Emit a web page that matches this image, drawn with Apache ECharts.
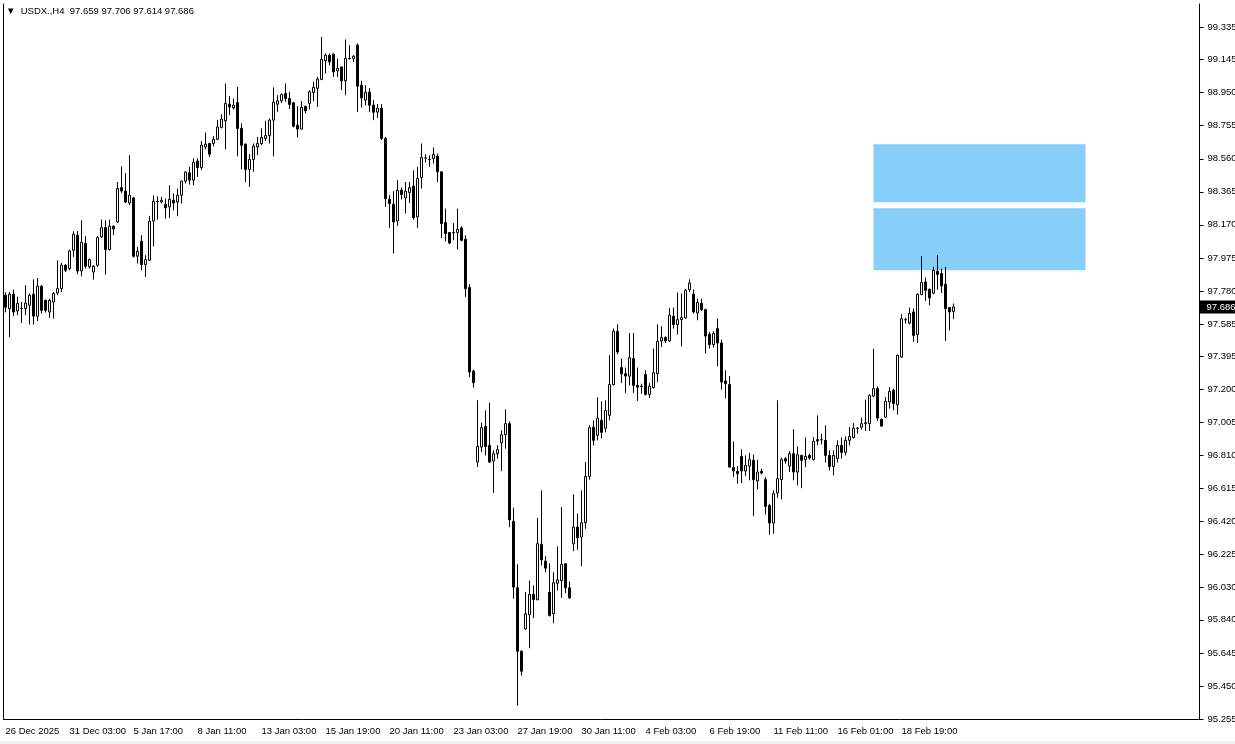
<!DOCTYPE html>
<html>
<head>
<meta charset="utf-8">
<title>USDX H4</title>
<script src="https://cdn.jsdelivr.net/npm/echarts@6/dist/echarts.min.js"></script>
<style>
  html, body { margin: 0; padding: 0; background: #f0f0f0; height: 744px; overflow: hidden; }
  #chart { width: 1235px; height: 741px; background: #fff; }
</style>
</head>
<body>
<div id="chart"></div>
<script>
const symbolName = 'USDX.,H4';
const fontFamily = 'Liberation Sans, Arial, sans-serif';

// x-axis time labels, one every 16 bars
const tickLabels = ['26 Dec 2025', '31 Dec 03:00', '5 Jan 17:00', '8 Jan 11:00', '13 Jan 03:00',
  '15 Jan 19:00', '20 Jan 11:00', '23 Jan 03:00', '27 Jan 19:00', '30 Jan 11:00',
  '4 Feb 03:00', '6 Feb 19:00', '11 Feb 11:00', '16 Feb 01:00', '18 Feb 19:00'];
const tickStep = 16;
const totalSlots = 299; // bars + empty space on the right

const priceTicks = [99.335, 99.145, 98.950, 98.755, 98.560, 98.365, 98.170, 97.975, 97.780,
  97.585, 97.395, 97.200, 97.005, 96.810, 96.615, 96.420, 96.225, 96.030, 95.840, 95.645,
  95.450, 95.255];

const opens = [97.755, 97.676, 97.761, 97.662, 97.676, 97.676, 97.696, 97.761, 97.631, 97.808,
  97.725, 97.656, 97.715, 97.768, 97.794, 97.932, 97.912, 98.020, 98.109, 97.898,
  98.060, 97.922, 97.892, 97.932, 98.099, 98.154, 98.024, 98.162, 98.187, 98.390,
  98.370, 98.299, 98.329, 97.985, 98.073, 97.936, 97.961, 98.193, 98.309, 98.305,
  98.292, 98.276, 98.315, 98.305, 98.345, 98.428, 98.477, 98.434, 98.547, 98.508,
  98.630, 98.650, 98.650, 98.675, 98.745, 98.784, 98.882, 98.860, 98.892, 98.739,
  98.646, 98.497, 98.556, 98.630, 98.650, 98.680, 98.697, 98.788, 98.882, 98.902,
  98.945, 98.916, 98.890, 98.758, 98.735, 98.870, 98.886, 98.951, 98.975, 99.028,
  99.138, 99.171, 99.177, 99.079, 99.102, 99.020, 99.152, 99.152, 99.230, 98.994,
  98.906, 98.953, 98.876, 98.835, 98.858, 98.680, 98.321, 98.292, 98.193, 98.374,
  98.329, 98.361, 98.398, 98.217, 98.450, 98.565, 98.556, 98.562, 98.575, 98.483,
  98.184, 98.125, 98.125, 98.125, 98.152, 98.085, 97.800, 97.308, 96.771, 96.859,
  96.981, 96.869, 96.777, 96.820, 96.885, 96.932, 96.997, 96.421, 96.029, 95.655,
  95.787, 95.870, 95.990, 95.958, 96.285, 96.186, 96.003, 95.876, 96.056, 96.072,
  96.171, 96.029, 96.289, 96.387, 96.328, 96.413, 96.686, 96.976, 96.928, 97.017,
  96.970, 97.046, 97.228, 97.542, 97.328, 97.292, 97.278, 97.381, 97.223, 97.218,
  97.287, 97.170, 97.210, 97.292, 97.485, 97.505, 97.485, 97.631, 97.582, 97.611,
  97.621, 97.788, 97.761, 97.650, 97.707, 97.670, 97.524, 97.464, 97.558, 97.473,
  97.249, 97.228, 96.738, 96.716, 96.804, 96.718, 96.747, 96.781, 96.659, 96.716,
  96.667, 96.515, 96.411, 96.588, 96.667, 96.791, 96.747, 96.820, 96.712, 96.810,
  96.785, 96.810, 96.785, 96.903, 96.903, 96.899, 96.810, 96.745, 96.792, 96.869,
  96.828, 96.899, 96.915, 96.971, 96.977, 96.997, 96.997, 97.160, 97.204, 97.023,
  97.036, 97.125, 97.194, 97.109, 97.390, 97.611, 97.591, 97.656, 97.523, 97.759,
  97.833, 97.790, 97.768, 97.896, 97.883, 97.820, 97.682, 97.659];

const closes = [97.684, 97.761, 97.656, 97.706, 97.678, 97.709, 97.755, 97.632, 97.808, 97.666,
  97.666, 97.725, 97.765, 97.794, 97.932, 97.902, 98.016, 98.115, 97.898, 98.067,
  97.926, 97.965, 97.926, 98.095, 98.154, 98.024, 98.162, 98.146, 98.385, 98.370,
  98.305, 98.345, 97.985, 98.014, 97.936, 97.965, 98.191, 98.309, 98.307, 98.315,
  98.270, 98.321, 98.299, 98.345, 98.428, 98.481, 98.434, 98.538, 98.508, 98.640,
  98.646, 98.587, 98.675, 98.748, 98.794, 98.886, 98.866, 98.876, 98.739, 98.640,
  98.497, 98.556, 98.634, 98.650, 98.686, 98.697, 98.788, 98.894, 98.902, 98.939,
  98.916, 98.880, 98.752, 98.735, 98.863, 98.843, 98.955, 98.981, 99.030, 99.146,
  99.171, 99.132, 99.073, 99.093, 99.020, 99.152, 99.150, 99.165, 98.988, 98.919,
  98.953, 98.876, 98.835, 98.858, 98.680, 98.325, 98.296, 98.187, 98.374, 98.349,
  98.369, 98.390, 98.213, 98.444, 98.567, 98.564, 98.555, 98.585, 98.483, 98.178,
  98.119, 98.063, 98.124, 98.144, 98.079, 97.794, 97.302, 97.239, 96.863, 96.974,
  96.863, 96.771, 96.820, 96.844, 96.932, 96.997, 96.431, 96.033, 95.655, 95.537,
  95.876, 95.990, 95.960, 96.289, 96.194, 96.145, 95.866, 96.059, 96.076, 96.167,
  96.029, 95.970, 96.387, 96.324, 96.413, 96.686, 96.974, 96.899, 97.029, 96.946,
  97.076, 97.228, 97.542, 97.420, 97.292, 97.278, 97.387, 97.223, 97.213, 97.216,
  97.170, 97.218, 97.298, 97.483, 97.505, 97.485, 97.637, 97.582, 97.611, 97.623,
  97.784, 97.827, 97.656, 97.712, 97.670, 97.514, 97.464, 97.529, 97.473, 97.243,
  97.233, 96.741, 96.718, 96.702, 96.718, 96.751, 96.785, 96.667, 96.712, 96.706,
  96.509, 96.411, 96.584, 96.673, 96.785, 96.777, 96.820, 96.712, 96.814, 96.781,
  96.804, 96.794, 96.893, 96.895, 96.902, 96.810, 96.745, 96.810, 96.869, 96.828,
  96.899, 96.922, 96.971, 96.970, 96.997, 97.003, 97.164, 97.204, 97.030, 96.983,
  97.129, 97.188, 97.115, 97.400, 97.617, 97.610, 97.647, 97.518, 97.761, 97.830,
  97.784, 97.739, 97.902, 97.877, 97.810, 97.676, 97.656, 97.686];

const lows = [97.654, 97.508, 97.632, 97.637, 97.591, 97.637, 97.582, 97.582, 97.603, 97.647,
  97.653, 97.621, 97.617, 97.755, 97.774, 97.892, 97.902, 97.981, 97.879, 97.867,
  97.912, 97.912, 97.847, 97.922, 98.093, 97.877, 98.020, 98.109, 98.181, 98.358,
  98.299, 98.286, 97.977, 97.942, 97.902, 97.863, 97.957, 98.044, 98.201, 98.296,
  98.207, 98.211, 98.256, 98.221, 98.296, 98.414, 98.408, 98.404, 98.453, 98.493,
  98.615, 98.571, 98.634, 98.670, 98.739, 98.616, 98.817, 98.851, 98.575, 98.497,
  98.423, 98.394, 98.483, 98.581, 98.640, 98.665, 98.650, 98.575, 98.837, 98.890,
  98.896, 98.853, 98.745, 98.686, 98.733, 98.827, 98.851, 98.900, 98.866, 99.024,
  99.063, 99.112, 99.043, 99.043, 98.965, 98.935, 99.146, 99.132, 98.837, 98.863,
  98.876, 98.835, 98.788, 98.800, 98.670, 98.276, 98.152, 98.001, 98.164, 98.320,
  98.237, 98.299, 98.201, 98.152, 98.384, 98.538, 98.512, 98.532, 98.423, 98.093,
  98.073, 98.056, 98.079, 98.024, 98.073, 97.745, 97.272, 97.210, 96.741, 96.830,
  96.810, 96.765, 96.588, 96.791, 96.717, 96.850, 96.387, 95.964, 95.334, 95.511,
  95.781, 95.673, 95.850, 95.958, 96.161, 96.121, 95.860, 95.820, 96.013, 95.970,
  95.997, 95.964, 96.245, 96.253, 96.157, 96.377, 96.667, 96.869, 96.899, 96.911,
  96.946, 97.017, 97.223, 97.406, 97.237, 97.178, 97.223, 97.178, 97.131, 97.174,
  97.164, 97.149, 97.204, 97.243, 97.449, 97.473, 97.479, 97.558, 97.524, 97.454,
  97.617, 97.774, 97.647, 97.607, 97.662, 97.411, 97.440, 97.446, 97.336, 97.198,
  97.145, 96.741, 96.682, 96.643, 96.647, 96.688, 96.663, 96.452, 96.609, 96.698,
  96.462, 96.342, 96.348, 96.560, 96.550, 96.761, 96.712, 96.663, 96.633, 96.617,
  96.741, 96.785, 96.781, 96.869, 96.875, 96.769, 96.722, 96.692, 96.769, 96.792,
  96.810, 96.869, 96.909, 96.938, 96.962, 96.954, 96.954, 97.154, 97.013, 96.981,
  97.033, 97.086, 97.076, 97.050, 97.387, 97.588, 97.583, 97.479, 97.473, 97.755,
  97.721, 97.696, 97.761, 97.788, 97.768, 97.485, 97.548, 97.614];

const highs = [97.772, 97.774, 97.788, 97.745, 97.715, 97.814, 97.765, 97.849, 97.857, 97.814,
  97.729, 97.735, 97.774, 97.961, 97.945, 97.938, 98.024, 98.132, 98.134, 98.197,
  98.103, 97.971, 97.932, 98.103, 98.201, 98.197, 98.201, 98.168, 98.423, 98.516,
  98.475, 98.581, 98.335, 98.040, 98.109, 97.991, 98.223, 98.345, 98.339, 98.335,
  98.325, 98.404, 98.355, 98.384, 98.430, 98.487, 98.512, 98.562, 98.562, 98.664,
  98.715, 98.654, 98.693, 98.788, 98.823, 99.004, 98.929, 98.916, 98.984, 98.768,
  98.650, 98.587, 98.650, 98.689, 98.739, 98.784, 98.798, 98.981, 98.935, 98.945,
  99.004, 98.955, 98.896, 98.870, 98.900, 98.870, 98.965, 99.014, 99.043, 99.279,
  99.181, 99.181, 99.181, 99.152, 99.102, 99.264, 99.230, 99.171, 99.240, 99.020,
  98.994, 98.977, 98.906, 98.882, 98.882, 98.689, 98.345, 98.369, 98.434, 98.390,
  98.423, 98.423, 98.492, 98.512, 98.650, 98.587, 98.581, 98.626, 98.591, 98.483,
  98.266, 98.128, 98.181, 98.266, 98.162, 98.109, 97.820, 97.316, 97.135, 97.003,
  97.076, 97.121, 96.840, 96.869, 96.958, 97.082, 97.011, 96.501, 96.167, 95.659,
  96.003, 96.072, 96.043, 96.440, 96.604, 96.216, 96.174, 96.121, 96.273, 96.505,
  96.174, 96.066, 96.580, 96.466, 96.604, 96.771, 96.987, 97.017, 97.153, 97.129,
  97.135, 97.401, 97.558, 97.583, 97.381, 97.328, 97.532, 97.532, 97.328, 97.233,
  97.312, 97.237, 97.440, 97.583, 97.572, 97.513, 97.680, 97.682, 97.771, 97.765,
  97.790, 97.849, 97.788, 97.735, 97.735, 97.676, 97.538, 97.542, 97.617, 97.493,
  97.312, 97.277, 96.893, 96.747, 96.846, 96.810, 96.824, 96.814, 96.785, 96.732,
  96.682, 96.525, 96.604, 97.135, 96.797, 96.800, 96.836, 96.964, 96.863, 96.814,
  96.915, 96.820, 96.918, 97.046, 96.938, 96.988, 96.840, 96.840, 96.899, 96.916,
  96.922, 96.977, 97.001, 96.977, 97.033, 97.139, 97.170, 97.440, 97.217, 97.027,
  97.154, 97.213, 97.204, 97.406, 97.643, 97.623, 97.682, 97.676, 97.765, 97.987,
  97.859, 97.794, 97.922, 97.991, 97.912, 97.922, 97.686, 97.706];

// rectangles drawn on the chart (bar index range and price range)
const zoneFrom = [217, 217];
const zoneTo = [270, 270];
const zoneTop = [98.646, 98.268];
const zoneBottom = [98.304, 97.902];

const categories = [];
for (let i = 0; i < totalSlots; i++) categories.push(String(i));

const candles = opens.map((o, i) => [o, closes[i], lows[i], highs[i]]);
const last = opens.length - 1;
const header = '\u25BC  ' + symbolName + '  ' + [opens[last], highs[last], lows[last], closes[last]]
  .map(v => v.toFixed(3)).join(' ');

const isTick = idx => idx % tickStep === 0 && idx / tickStep < tickLabels.length;

const chart = echarts.init(document.getElementById('chart'));
chart.setOption({
  animation: false,
  backgroundColor: '#fff',
  textStyle: { fontFamily: fontFamily },
  title: {
    text: header,
    left: 6,
    top: 6,
    padding: 0,
    textStyle: { fontSize: 9.5, fontWeight: 'normal', color: '#000', fontFamily: fontFamily }
  },
  // half-pixel offset so the 3px candle bodies land on whole pixels
  grid: { left: 3.5, top: 4, width: 1196, height: 715, outerBoundsMode: 'none', containLabel: false },
  xAxis: {
    type: 'category',
    data: categories,
    boundaryGap: true,
    axisLine: { lineStyle: { color: '#000', width: 1 } },
    axisTick: { interval: idx => isTick(idx), length: 4, lineStyle: { color: '#000' } },
    axisLabel: {
      interval: idx => isTick(idx),
      formatter: (v, idx) => tickLabels[idx / tickStep] || '',
      align: 'left',
      margin: 7,
      fontSize: 9.5,
      color: '#000',
      fontFamily: fontFamily
    },
    splitLine: { show: false }
  },
  yAxis: [{
    type: 'value',
    position: 'right',
    min: 95.255,
    max: 99.473,
    scale: true,
    axisLine: { show: true, lineStyle: { color: '#000' } },
    axisTick: { show: true, length: 4, customValues: priceTicks, lineStyle: { color: '#000' } },
    axisLabel: {
      customValues: priceTicks,
      formatter: v => v.toFixed(3),
      margin: 8,
      fontSize: 9.5,
      color: '#000',
      fontFamily: fontFamily
    },
    splitLine: { show: false }
  }, {
    type: 'value',
    position: 'left',
    min: 95.255,
    max: 99.473,
    axisLine: { show: true, onZero: false, lineStyle: { color: '#000' } },
    axisTick: { show: false },
    axisLabel: { show: false },
    splitLine: { show: false }
  }],
  series: [{
    type: 'candlestick',
    data: candles,
    barWidth: 2,
    clip: false,
    itemStyle: {
      color: '#fff',
      color0: '#000',
      borderColor: '#000',
      borderColor0: '#000',
      borderWidth: 1
    },
    markArea: {
      silent: true,
      itemStyle: { color: '#87cefa', opacity: 1 },
      data: zoneFrom.map((f, i) => [
        { xAxis: f, yAxis: zoneTop[i] },
        { xAxis: zoneTo[i], yAxis: zoneBottom[i] }
      ])
    },
    markLine: {
      silent: true,
      symbol: 'none',
      precision: 3,
      lineStyle: { color: 'rgba(0,0,0,0)', width: 0 },
      label: {
        show: true,
        position: 'end',
        distance: 0,
        formatter: p => Number(p.value).toFixed(3),
        backgroundColor: '#000',
        color: '#fff',
        padding: [2, 2, 1, 7],
        fontSize: 9.5,
        fontFamily: fontFamily
      },
      data: [{ yAxis: closes[last] }]
    }
  }]
});
</script>
</body>
</html>
